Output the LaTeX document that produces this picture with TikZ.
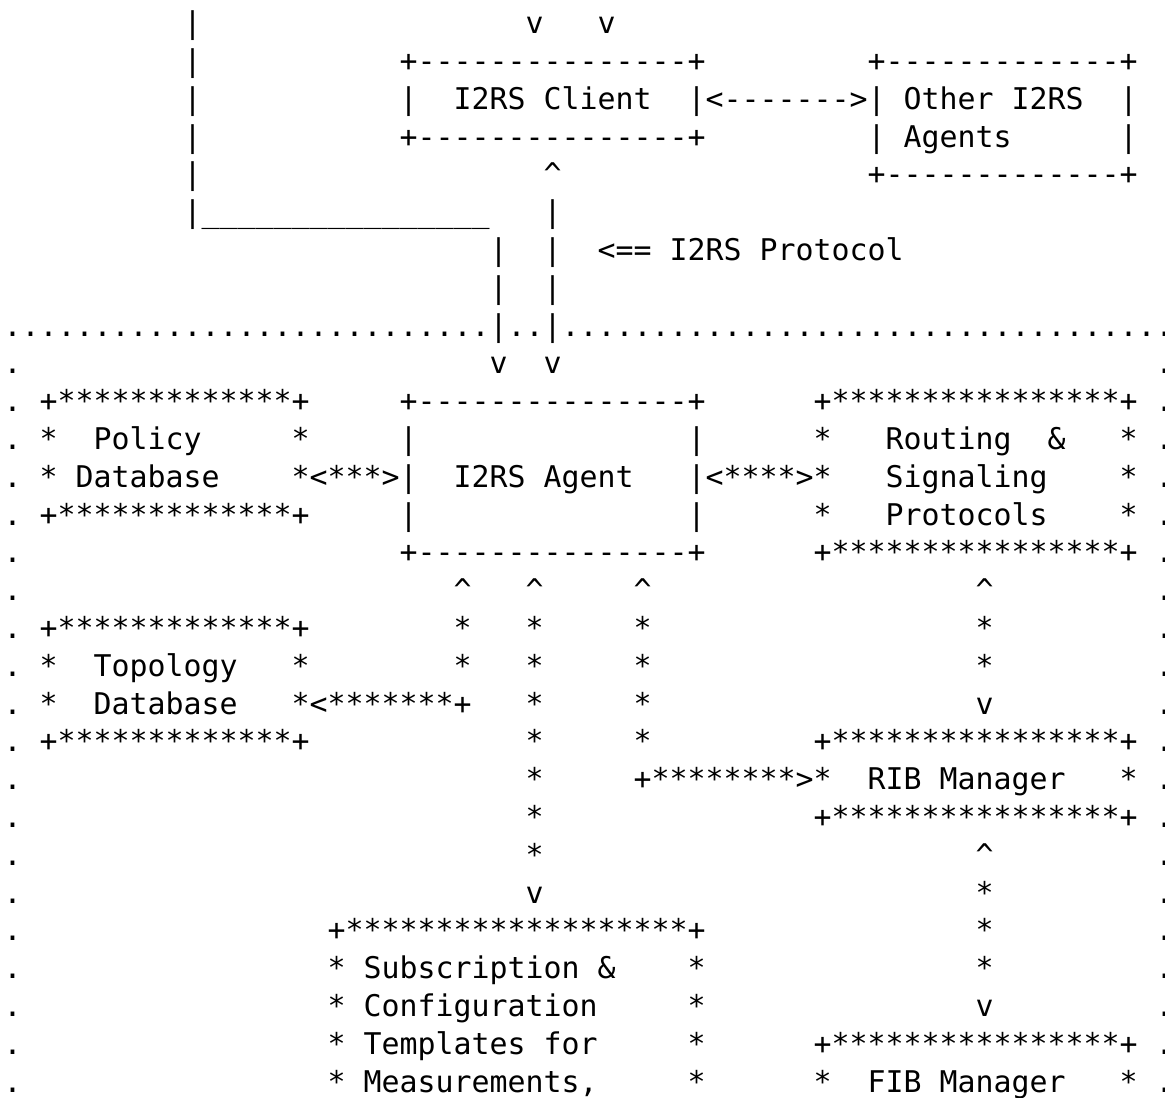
\documentclass[tikz,border=0pt]{standalone}
\usepackage{fontspec}
\setmonofont{DejaVu Sans Mono}
\usepackage{tikz}
\ExplSyntaxOn
\cs_new:Npn \ascrep #1#2 { \prg_replicate:nn {#1} {#2} }
\ExplSyntaxOff
% character grid: column -> x, row -> y (in px)
\newcommand{\colx}[1]{3.7+18*#1}
\newcommand{\rowy}[1]{33.6+37.8*#1}

\begin{document}
\begin{tikzpicture}[x=0.5pt,y=-0.5pt,
  asc/.style={anchor=base west,inner sep=0pt,outer sep=0pt,font=\ttfamily\fontsize{14.95pt}{18pt}\selectfont}]
\useasboundingbox[fill=white] (0,0) rectangle (1165,1097);
% ---------- top: client side ----------
\foreach \r in {0,...,4} \node[asc] (lb\r) at (\colx{10},\rowy{\r}) {|};
\node[asc] (lb5) at (\colx{10},\rowy{5}) {|\ascrep{16}{\_}};
\node[asc] (va) at (\colx{29},\rowy{0}) {v};
\node[asc] (vb) at (\colx{33},\rowy{0}) {v};
\node[asc] (ctop) at (\colx{22},\rowy{1}) {+\ascrep{15}{-}+};
\node[asc] (cl) at (\colx{22},\rowy{2}) {|};
\node[asc] (client) at (\colx{25},\rowy{2}) {I2RS Client};
\node[asc] (clink) at (\colx{38},\rowy{2}) {|<\ascrep{7}{-}>|};
\node[asc] (cbot) at (\colx{22},\rowy{3}) {+\ascrep{15}{-}+};
\node[asc] (otop) at (\colx{48},\rowy{1}) {+\ascrep{13}{-}+};
\node[asc] (other) at (\colx{50},\rowy{2}) {Other I2RS};
\node[asc] (or2) at (\colx{62},\rowy{2}) {|};
\node[asc] (ol3) at (\colx{48},\rowy{3}) {|};
\node[asc] (agents) at (\colx{50},\rowy{3}) {Agents};
\node[asc] (or3) at (\colx{62},\rowy{3}) {|};
\node[asc] (obot) at (\colx{48},\rowy{4}) {+\ascrep{13}{-}+};
% protocol link
\node[asc] (up) at (\colx{30},\rowy{4}) {\textasciicircum};
\node[asc] (p5) at (\colx{30},\rowy{5}) {|};
\foreach \r in {6,7}{
  \node[asc] (pa\r) at (\colx{27},\rowy{\r}) {|};
  \node[asc] (pb\r) at (\colx{30},\rowy{\r}) {|};
}
\node[asc] (proto) at (\colx{33},\rowy{6}) {<== I2RS Protocol};
% ---------- dotted frame ----------
\node[asc] (dl) at (\colx{0},\rowy{8}) {\ascrep{27}{.}};
\node[asc] (dm) at (\colx{27},\rowy{8}) {|..|};
\node[asc] (dr) at (\colx{31},\rowy{8}) {\ascrep{34}{.}};
\foreach \r in {9,...,28}{
  \node[asc] (ld\r) at (\colx{0},\rowy{\r}) {.};
  \node[asc] (rd\r) at (\colx{64},\rowy{\r}) {.};
}
\node[asc] (dn1) at (\colx{27},\rowy{9}) {v};
\node[asc] (dn2) at (\colx{30},\rowy{9}) {v};
% ---------- policy database ----------
\node[asc] (ptop) at (\colx{2},\rowy{10}) {+\ascrep{13}{*}+};
\node[asc] (pl11) at (\colx{2},\rowy{11}) {*};
\node[asc] (policy) at (\colx{5},\rowy{11}) {Policy};
\node[asc] (pr11) at (\colx{16},\rowy{11}) {*};
\node[asc] (pl12) at (\colx{2},\rowy{12}) {*};
\node[asc] (pdb) at (\colx{4},\rowy{12}) {Database};
\node[asc] (plink) at (\colx{16},\rowy{12}) {*<***>|};
\node[asc] (pbot) at (\colx{2},\rowy{13}) {+\ascrep{13}{*}+};
% ---------- agent ----------
\node[asc] (atop) at (\colx{22},\rowy{10}) {+\ascrep{15}{-}+};
\foreach \r in {11,13}{
  \node[asc] (al\r) at (\colx{22},\rowy{\r}) {|};
  \node[asc] (ar\r) at (\colx{38},\rowy{\r}) {|};
}
\node[asc] (agent) at (\colx{25},\rowy{12}) {I2RS Agent};
\node[asc] (alink) at (\colx{38},\rowy{12}) {|<****>*};
\node[asc] (abot) at (\colx{22},\rowy{14}) {+\ascrep{15}{-}+};
% ---------- routing & signaling ----------
\node[asc] (rtop) at (\colx{45},\rowy{10}) {+\ascrep{16}{*}+};
\node[asc] (rl11) at (\colx{45},\rowy{11}) {*};
\node[asc] (routing) at (\colx{49},\rowy{11}) {Routing};
\node[asc] (amp) at (\colx{58},\rowy{11}) {\&};
\node[asc] (signal) at (\colx{49},\rowy{12}) {Signaling};
\node[asc] (rl13) at (\colx{45},\rowy{13}) {*};
\node[asc] (protos) at (\colx{49},\rowy{13}) {Protocols};
\foreach \r in {11,12,13} \node[asc] (rr\r) at (\colx{62},\rowy{\r}) {*};
\node[asc] (rbot) at (\colx{45},\rowy{14}) {+\ascrep{16}{*}+};
% ---------- links below the agent ----------
\foreach \c in {25,29,35,54} \node[asc] (up\c) at (\colx{\c},\rowy{15}) {\textasciicircum};
\foreach \c in {25,29,35,54}{
  \node[asc] (sa\c) at (\colx{\c},\rowy{16}) {*};
  \node[asc] (sb\c) at (\colx{\c},\rowy{17}) {*};
}
\foreach \r in {18,...,22} \node[asc] (sc\r) at (\colx{29},\rowy{\r}) {*};
\foreach \r in {18,19} \node[asc] (sd\r) at (\colx{35},\rowy{\r}) {*};
\node[asc] (dn3) at (\colx{29},\rowy{23}) {v};
% ---------- topology database ----------
\node[asc] (ttop) at (\colx{2},\rowy{16}) {+\ascrep{13}{*}+};
\node[asc] (tl17) at (\colx{2},\rowy{17}) {*};
\node[asc] (topo) at (\colx{5},\rowy{17}) {Topology};
\node[asc] (tr17) at (\colx{16},\rowy{17}) {*};
\node[asc] (tl18) at (\colx{2},\rowy{18}) {*};
\node[asc] (tdb) at (\colx{5},\rowy{18}) {Database};
\node[asc] (tlink) at (\colx{16},\rowy{18}) {*<\ascrep{7}{*}+};
\node[asc] (tbot) at (\colx{2},\rowy{19}) {+\ascrep{13}{*}+};
% ---------- RIB and FIB managers ----------
\node[asc] (dn4) at (\colx{54},\rowy{18}) {v};
\node[asc] (ribtop) at (\colx{45},\rowy{19}) {+\ascrep{16}{*}+};
\node[asc] (riblink) at (\colx{35},\rowy{20}) {+\ascrep{8}{*}>*};
\node[asc] (rib) at (\colx{48},\rowy{20}) {RIB Manager};
\node[asc] (ribr) at (\colx{62},\rowy{20}) {*};
\node[asc] (ribbot) at (\colx{45},\rowy{21}) {+\ascrep{16}{*}+};
\node[asc] (up5) at (\colx{54},\rowy{22}) {\textasciicircum};
\foreach \r in {23,24,25} \node[asc] (se\r) at (\colx{54},\rowy{\r}) {*};
\node[asc] (dn5) at (\colx{54},\rowy{26}) {v};
\node[asc] (fibtop) at (\colx{45},\rowy{27}) {+\ascrep{16}{*}+};
\node[asc] (fibl) at (\colx{45},\rowy{28}) {*};
\node[asc] (fib) at (\colx{48},\rowy{28}) {FIB Manager};
\node[asc] (fibr) at (\colx{62},\rowy{28}) {*};
% ---------- subscription templates ----------
\node[asc] (stop) at (\colx{18},\rowy{24}) {+\ascrep{19}{*}+};
\foreach \r in {25,...,28}{
  \node[asc] (sl\r) at (\colx{18},\rowy{\r}) {*};
  \node[asc] (sr\r) at (\colx{38},\rowy{\r}) {*};
}
\node[asc] (subs) at (\colx{20},\rowy{25}) {Subscription \&};
\node[asc] (conf) at (\colx{20},\rowy{26}) {Configuration};
\node[asc] (tmpl) at (\colx{20},\rowy{27}) {Templates for};
\node[asc] (meas) at (\colx{20},\rowy{28}) {Measurements,};
\end{tikzpicture}
\end{document}
